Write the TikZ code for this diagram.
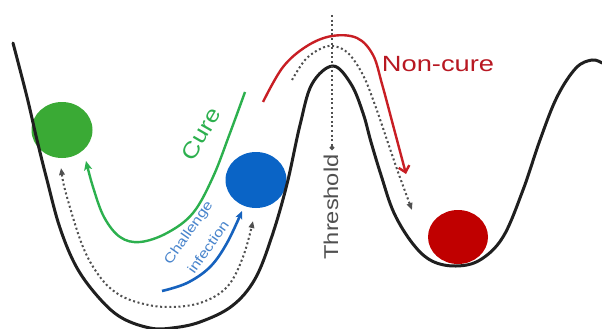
\documentclass[tikz,border=0pt]{standalone}
\usepackage{fontspec}
\setmainfont{Liberation Sans}
\usetikzlibrary{arrows.meta,shapes.geometric}
\definecolor{cgreen}{RGB}{58,170,53}
\definecolor{cgreenl}{RGB}{44,176,78}
\definecolor{cblue}{RGB}{10,100,198}
\definecolor{cbluea}{RGB}{22,98,190}
\definecolor{cbluet}{RGB}{72,132,204}
\definecolor{cred}{RGB}{192,0,0}
\definecolor{credl}{RGB}{200,30,36}
\definecolor{credt}{RGB}{184,24,34}
\definecolor{cgray}{RGB}{80,80,80}
\begin{document}
\begin{tikzpicture}[x=1pt,y=-1pt,
  landscape/.style={line width=3pt, draw=black!88, line cap=round},
  dots/.style={draw=cgray, line width=2pt, dash pattern=on 2pt off 2.6pt},
  ball/.style={ellipse, inner sep=0pt, minimum width=61pt, minimum height=56pt},
  dtip/.tip={Triangle[length=7pt,width=5.5pt]},
  txt/.style={inner sep=0pt}]
\useasboundingbox[fill=white] (0,0) rectangle (602,329);
% balls
\node[ball, fill=cgreen] (gball) at (62,130) {};
\node[ball, fill=cblue] (bball) at (256,180) {};
\node[ball, fill=cred, minimum width=60pt, minimum height=54pt] (rball) at (458,237) {};
% landscape
\draw[landscape] plot[smooth, tension=0.6] coordinates {
  (13,43) (27,97) (37,140) (47,180) (60,228) (77,268) (100,299) (122,318)
  (150,328) (172,328) (200,322) (232,306) (255,279) (272,236) (287,184)
  (300,125) (312,84) (333,66) (351,84) (363,113) (371,142) (381,175)
  (394,213) (413,244) (432,261) (456,266) (480,260) (503,237) (523,190)
  (540,140) (557,97) (576,68) (592,60) (602,63)};
% threshold
\coordinate (thtop) at (332,15);
\coordinate (thend) at (332,150);
\draw[dots, -{Circle[length=4.5pt]}] (thtop) -- (thend);
\node[txt, rotate=90, text=cgray, font=\fontsize{20}{20}\selectfont] (thr) at (331,207) {\scalebox{1.18}[1]{Threshold}};
% dotted paths
\draw[dots, dtip-dtip] plot[smooth, tension=0.6] coordinates {
  (61,168) (67,197) (83,247) (100,277) (118,294) (140,303) (167,307)
  (200,303) (227,287) (243,257) (253,221)};
\draw[dots, -dtip] plot[smooth, tension=0.6] coordinates {
  (292,80) (305,60) (320,49) (333,46) (348,53) (363,75) (375,105)
  (386,137) (398,172) (412,210)};
% cure arrow
\draw[cgreenl, line width=2.4pt, -{Stealth[length=9pt,width=8pt,inset=2pt]}] plot[smooth, tension=0.6] coordinates {
  (245,92) (230,133) (213,177) (193,213) (167,233) (140,242) (120,237)
  (104,217) (93,187) (86,161)};
\node[txt, rotate=60, text=cgreenl, font=\fontsize{22}{22}\selectfont] (cure) at (201,134) {\scalebox{1.18}[1]{Cure}};
% challenge arrow
\draw[cbluea, line width=2.6pt, -{Stealth[length=8pt,width=7pt,inset=2pt]}] plot[smooth, tension=0.6] coordinates {
  (162,291) (187,283) (210,267) (227,243) (242,211)};
\node[txt, rotate=55, text=cbluet, font=\fontsize{13.5}{13.5}\selectfont] (chal) at (189,233) {\scalebox{1.22}[1]{Challenge}};
\node[txt, rotate=55, text=cbluet, font=\fontsize{13.5}{13.5}\selectfont] (inf) at (208,247) {\scalebox{1.22}[1]{infection}};
% non-cure arrow
\draw[credl, line width=2.4pt, -{Straight Barb[length=6pt,width=11pt]}] plot[smooth, tension=0.6] coordinates {
  (263,102) (283,67) (307,46) (332,36) (357,38) (373,55) (382,84)
  (393,125) (406,174)};
\node[txt, anchor=base, text=credt, font=\fontsize{22}{22}\selectfont] (noncure) at (438,71) {\scalebox{1.24}[1]{Non-cure}};
\end{tikzpicture}
\end{document}
